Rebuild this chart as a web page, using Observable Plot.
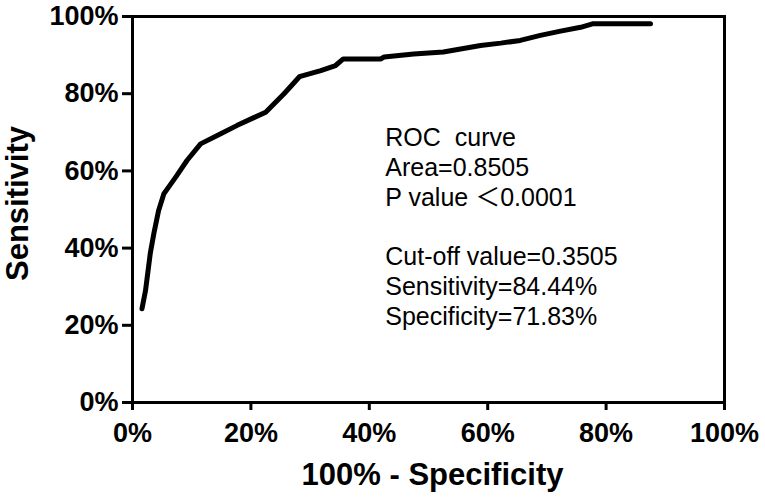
<!DOCTYPE html>
<html>
<head>
<meta charset="utf-8">
<script src="https://cdn.jsdelivr.net/npm/d3@7"></script>
<script src="https://cdn.jsdelivr.net/npm/@observablehq/plot@0.6"></script>
<style>
  html, body { margin: 0; padding: 0; background: #fff; }
  #chart svg { display: block; }
</style>
</head>
<body>
<div id="chart"></div>
<script>
// 100% - Specificity (false positive rate, %)
const fpr = [1.6, 2.2, 3.0, 3.6, 4.4, 5.3, 6.1, 7.3, 9.2, 11.5, 14.9, 17.7, 20.5, 22.5, 25.6, 28.2, 31.8, 34.3, 35.6, 41.9, 42.5, 47.5, 52.5, 58.8, 62.2, 65.5, 68.9, 72.3, 75.7, 77.7, 87.5];
// Sensitivity (%)
const tpr = [24.3, 29.0, 38.6, 43.7, 49.7, 54.1, 55.8, 58.4, 62.7, 67.0, 69.6, 71.8, 73.8, 75.2, 80.0, 84.4, 86.0, 87.3, 89.0, 89.0, 89.5, 90.3, 90.8, 92.5, 93.1, 93.8, 95.1, 96.2, 97.2, 98.1, 98.1];

const tickValues = [0, 20, 40, 60, 80, 100];
const xTitle = "100% - Specificity";
const yTitle = "Sensitivity";
const noteLines = ["ROC  curve", "Area=0.8505", "P value \uFF1C0.0001", "", "Cut-off value=0.3505", "Sensitivity=84.44%", "Specificity=71.83%"];
const noteAnchor = {x: 42.7, y: 71.8};

const points = fpr.map((x, i) => ({x, y: tpr[i]}));
const font = "Liberation Sans, Arial, Helvetica, sans-serif";
const noteFont = "Liberation Sans, Arial, 'Noto Sans CJK SC', sans-serif";

const chart = Plot.plot({
  width: 765,
  height: 497,
  marginLeft: 132,
  marginRight: 41,
  marginTop: 16,
  marginBottom: 95,
  style: {fontFamily: font, background: "#fff", color: "#000", overflow: "visible"},
  x: {domain: [0, 100]},
  y: {domain: [0, 100]},
  marks: [
    Plot.axisX({ticks: tickValues, tickFormat: d => d + "%", tickSize: 8, tickPadding: 12,
      fontSize: 27, fontWeight: "bold", strokeWidth: 3, label: null}),
    Plot.axisY({ticks: tickValues, tickFormat: d => d + "%", tickSize: 10, tickPadding: 4,
      fontSize: 27, fontWeight: "bold", strokeWidth: 3, label: null}),
    Plot.frame({stroke: "#000", strokeWidth: 3}),
    Plot.line(points, {x: "x", y: "y", stroke: "#000", strokeWidth: 5, strokeLinejoin: "round", strokeLinecap: "round"}),
    Plot.text([noteLines.join("\n")], {x: () => noteAnchor.x, y: () => noteAnchor.y, textAnchor: "start", lineAnchor: "top",
      fontSize: 25, lineHeight: 1.19, fill: "#000", fontFamily: noteFont}),
    Plot.text([xTitle], {frameAnchor: "bottom", dx: 4, dy: 82, lineAnchor: "bottom", textAnchor: "middle",
      fontSize: 31, fontWeight: "bold", fill: "#000"}),
    Plot.text([yTitle], {frameAnchor: "left", dx: -105, dy: -6, rotate: -90, lineAnchor: "bottom", textAnchor: "middle",
      fontSize: 31, fontWeight: "bold", fill: "#000"})
  ]
});
document.getElementById("chart").appendChild(chart);
</script>
</body>
</html>
